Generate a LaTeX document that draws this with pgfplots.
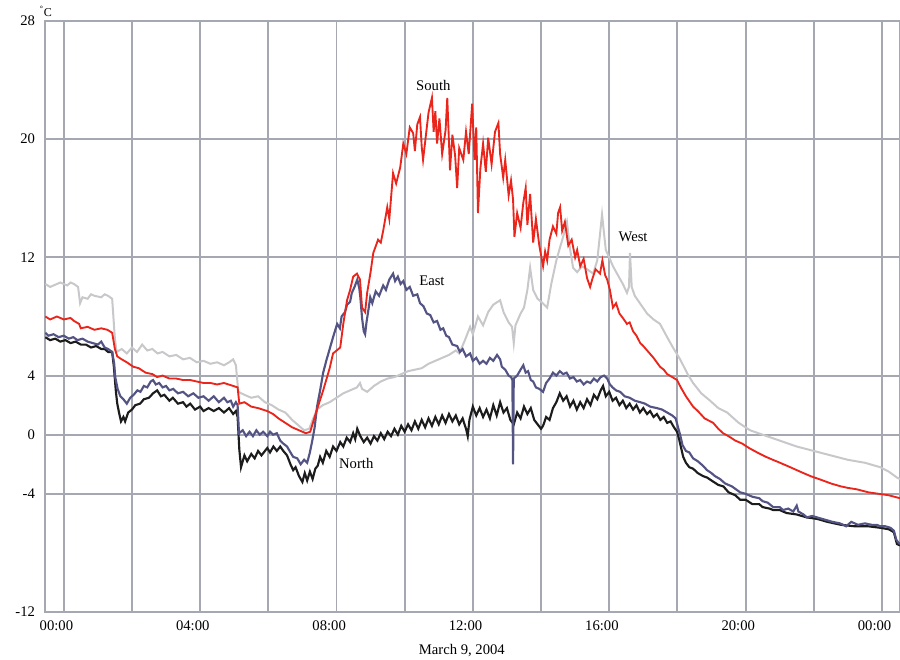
\documentclass[border=0pt]{standalone}
\usepackage{pgfplots}
\pgfplotsset{compat=1.18}
\usepackage{fontspec}
\setmainfont{Liberation Serif}
\definecolor{gridc}{RGB}{165,168,177}
\definecolor{westc}{RGB}{200,200,202}
\definecolor{southc}{RGB}{234,38,28}
\definecolor{eastc}{RGB}{84,84,132}
\definecolor{northc}{RGB}{28,28,28}
\begin{document}
\begin{tikzpicture}
\begin{axis}[
  scale only axis,
  width=641.25pt, height=443.25pt,
  xmin=-0.55, xmax=24.53, ymin=-12, ymax=28,
  xtick={0,4,...,24},
  xticklabels={00:00,04:00,08:00,12:00,16:00,20:00,00:00},
  minor xtick={2,6,10,14,18,22},
  ytick={-12,-4,4,12,20,28},
  yticklabels={-12,-4,4,12,20,28},
  extra y ticks={0}, extra y tick labels={0},
  extra y tick style={grid style={black, line width=0.7pt}},
  grid=both,
  major grid style={gridc, line width=1.4pt},
  minor grid style={gridc, line width=1.4pt},
  major tick length=0pt, minor tick length=0pt,
  axis line style={gridc, line width=1.2pt},
  tick label style={font=\fontsize{11}{13}\selectfont, black},
  xticklabel style={xshift=-5.5pt, yshift=-3pt},
  yticklabel style={xshift=-4pt},
  xlabel={March 9, 2004},
  xlabel style={font=\fontsize{11}{13}\selectfont, yshift=-3pt, xshift=-8pt},
  clip=true,
]
% West
\addplot[westc, line width=1.5pt] coordinates {
(-0.54,10.2) (-0.4,10.0) (-0.3,10.1) (-0.1,10.3) (0.1,10.1) (0.2,10.3) (0.3,10.2) (0.42,10.0) (0.48,8.9) (0.55,9.3) (0.7,9.2) (0.8,9.5) (0.9,9.4) (1.1,9.3) (1.2,9.5) (1.3,9.4) (1.42,9.2)
(1.5,6.5) (1.55,5.6) (1.7,5.8) (1.85,5.5) (2.0,5.9) (2.15,5.6) (2.3,6.1) (2.45,5.7) (2.6,5.8) (2.75,5.5) (2.9,5.6) (3.1,5.3) (3.3,5.4) (3.5,5.1) (3.7,5.2) (3.9,4.9) (4.1,5.0) (4.3,4.8) (4.5,4.9) (4.7,4.7) (4.85,4.9) (4.97,5.1) (5.05,4.7)
(5.12,2.9) (5.3,2.7) (5.5,2.5) (5.7,2.6) (5.9,2.2) (6.1,2.0) (6.3,1.7) (6.5,1.5) (6.7,1.0) (6.9,0.6) (7.05,0.3) (7.2,0.4) (7.3,1.0) (7.43,1.7) (7.6,2.0) (7.8,2.2) (8.0,2.5) (8.2,2.8) (8.4,3.0) (8.6,3.2) (8.69,3.5) (8.75,3.1) (8.9,2.9) (9.1,3.3) (9.3,3.6) (9.5,3.8) (9.7,3.9) (9.9,4.1) (10.1,4.3) (10.3,4.4) (10.5,4.5) (10.7,4.8) (10.9,5.0) (11.1,5.2) (11.3,5.4) (11.5,5.7) (11.6,5.5) (11.75,6.3) (11.92,7.3) (12.0,6.8) (12.15,8.0) (12.3,7.4) (12.45,8.3) (12.6,8.8) (12.8,9.1) (12.9,8.3) (13.05,7.6) (13.15,7.3) (13.2,6.2) (13.25,7.4) (13.4,8.2) (13.5,8.6) (13.6,9.8) (13.68,11.3) (13.77,9.8) (13.9,9.2) (14.05,8.9) (14.18,8.6) (14.3,10.2) (14.45,11.8) (14.56,12.7) (14.65,13.4) (14.76,14.4) (14.85,12.6) (14.94,11.3) (15.06,11.0) (15.2,11.4) (15.35,11.2) (15.53,10.9) (15.65,11.8) (15.79,14.9) (15.9,12.5) (16.0,12.0) (16.11,11.4) (16.23,10.9) (16.4,10.2) (16.52,9.6) (16.58,10.0) (16.61,12.3) (16.66,10.0) (16.75,9.4) (16.9,8.9) (17.11,8.2) (17.3,7.8) (17.49,7.5) (17.7,6.6) (17.87,5.9) (18.08,5.1) (18.3,4.1) (18.46,3.5) (18.7,2.8) (18.96,2.3) (19.2,1.8) (19.46,1.5) (19.8,0.8) (20.13,0.3) (20.5,0.0) (21.0,-0.4) (21.5,-0.8) (22.0,-1.1) (22.5,-1.4) (23.0,-1.7) (23.5,-1.9) (23.95,-2.2) (24.2,-2.5) (24.44,-2.9) (24.53,-3.0)
};
% North
\addplot[northc, line width=1.6pt] coordinates {
(-0.54,6.6) (-0.4,6.4) (-0.25,6.5) (-0.1,6.3) (0.05,6.4) (0.2,6.2) (0.35,6.3) (0.5,6.1) (0.65,6.1) (0.8,5.9) (0.95,6.0) (1.1,5.8) (1.2,5.8) (1.3,5.6) (1.42,5.6) (1.47,4.6) (1.53,2.9) (1.57,2.1) (1.63,1.4) (1.68,0.9) (1.75,1.2) (1.8,0.9) (1.89,1.5) (2.0,1.7) (2.1,2.0) (2.24,2.1) (2.35,2.4) (2.5,2.5) (2.62,2.8) (2.74,3.0) (2.85,2.6) (2.95,2.7) (3.1,2.3) (3.2,2.5) (3.35,2.1) (3.5,2.2) (3.6,1.9) (3.71,2.1) (3.85,1.7) (4.0,1.9) (4.1,1.6) (4.25,1.8) (4.4,1.6) (4.55,1.8) (4.7,1.5) (4.85,1.8) (4.97,1.4) (5.05,1.6) (5.1,1.2) (5.15,-1.0) (5.2,-2.2) (5.3,-1.4) (5.38,-1.8) (5.5,-1.3) (5.6,-1.6) (5.7,-1.1) (5.8,-1.4) (5.97,-0.9) (6.05,-1.2) (6.15,-0.8) (6.25,-1.1) (6.35,-0.8) (6.44,-1.1) (6.55,-1.4) (6.65,-2.0) (6.73,-2.4) (6.8,-2.2) (6.9,-2.8) (7.0,-3.2) (7.07,-2.6) (7.14,-3.1) (7.22,-2.5) (7.3,-3.0) (7.38,-2.3) (7.45,-2.1)
(7.52,-1.5) (7.6,-1.9) (7.7,-1.1) (7.8,-1.5) (7.9,-0.8) (8.0,-1.1) (8.11,-0.5) (8.2,-0.8) (8.3,-0.2) (8.4,-0.5) (8.49,0.1) (8.55,-0.3) (8.61,0.4) (8.7,-0.1) (8.8,-0.5) (8.9,-0.2) (9.0,-0.6) (9.1,-0.1) (9.2,-0.4) (9.3,0.1) (9.4,-0.3) (9.5,0.2) (9.6,-0.1) (9.7,0.4) (9.8,0.0) (9.9,0.6) (10.0,0.2) (10.1,0.7) (10.2,0.3) (10.3,0.9) (10.4,0.4) (10.5,1.0) (10.6,0.5) (10.7,1.1) (10.8,0.6) (10.9,1.2) (11.0,0.7) (11.1,1.3) (11.2,0.8) (11.3,1.4) (11.4,0.9) (11.5,1.3) (11.6,0.7) (11.7,1.1) (11.8,0.4) (11.85,-0.1) (11.9,1.0) (12.0,1.9) (12.1,1.3) (12.2,1.8) (12.3,1.2) (12.4,1.7) (12.5,1.1) (12.6,2.0) (12.7,1.3) (12.8,2.2) (12.9,1.5) (13.0,1.8) (13.1,1.0) (13.2,0.7) (13.3,1.5) (13.4,1.1) (13.5,1.9) (13.6,1.4) (13.7,1.8) (13.8,1.0) (13.9,0.7) (14.0,0.4) (14.06,0.6) (14.15,1.2) (14.25,1.0) (14.35,1.8) (14.45,2.2) (14.55,2.8) (14.65,2.3) (14.75,2.6) (14.85,1.9) (14.95,2.3) (15.05,1.7) (15.15,2.2) (15.25,1.8) (15.35,2.4) (15.45,2.0) (15.55,2.7) (15.65,2.4) (15.75,3.0) (15.82,3.3) (15.9,2.6) (16.0,2.9) (16.1,2.3) (16.2,2.5) (16.3,2.0) (16.4,2.3) (16.5,1.8) (16.6,2.1) (16.7,1.7) (16.8,2.0) (16.9,1.5) (17.0,1.8) (17.11,1.4) (17.2,1.6) (17.3,1.2) (17.4,1.4) (17.5,1.0) (17.6,1.2) (17.7,0.8) (17.8,0.9) (17.9,0.5) (17.99,0.2)
(18.05,-0.3) (18.1,-0.8) (18.17,-1.5) (18.25,-1.9) (18.35,-2.2) (18.46,-2.3) (18.6,-2.6) (18.75,-2.8) (18.87,-2.9) (19.0,-3.1) (19.2,-3.4) (19.35,-3.5) (19.5,-3.9) (19.7,-4.1) (19.84,-4.4) (20.0,-4.4) (20.2,-4.7) (20.4,-4.7) (20.5,-4.9) (20.7,-5.0) (20.81,-5.1) (21.0,-5.1) (21.2,-5.3) (21.5,-5.4) (21.8,-5.6) (22.1,-5.7) (22.4,-5.9) (22.8,-6.1) (23.2,-6.2) (23.6,-6.2) (23.95,-6.3) (24.2,-6.4) (24.35,-6.6) (24.44,-7.4) (24.53,-7.5)
};
% East
\addplot[eastc, line width=1.6pt] coordinates {
(-0.54,6.9) (-0.45,6.7) (-0.3,6.8) (-0.15,6.6) (0.0,6.7) (0.15,6.5) (0.28,6.6) (0.4,6.4) (0.55,6.5) (0.7,6.3) (0.85,6.2) (1.0,6.1) (1.1,6.3) (1.2,5.9) (1.3,5.8) (1.42,5.6) (1.48,4.8) (1.51,3.9) (1.58,3.1) (1.66,2.6) (1.75,2.4) (1.85,2.1) (1.95,2.5) (2.05,2.7) (2.16,3.0) (2.25,2.9) (2.35,3.3) (2.45,3.2) (2.55,3.6) (2.62,3.7) (2.7,3.4) (2.8,3.5) (2.9,3.2) (3.0,3.3) (3.1,3.0) (3.21,3.1) (3.35,2.8) (3.5,2.9) (3.65,2.6) (3.8,2.8) (3.95,2.5) (4.1,2.6) (4.25,2.3) (4.4,2.6) (4.55,2.2) (4.7,2.5) (4.8,2.2) (4.9,2.3) (4.97,1.9) (5.05,2.2) (5.1,2.0)
(5.14,0.1) (5.25,0.3) (5.35,-0.1) (5.45,0.2) (5.55,-0.1) (5.65,0.3) (5.75,0.0) (5.85,0.2) (5.97,-0.1) (6.05,0.2) (6.14,0.0) (6.25,0.1) (6.35,-0.4) (6.44,-0.6) (6.55,-0.8) (6.65,-1.2) (6.73,-1.5) (6.85,-1.6) (6.95,-2.0) (7.05,-1.7) (7.14,-1.9) (7.22,-1.2) (7.29,-0.4) (7.36,0.5) (7.43,1.9) (7.52,3.0) (7.61,4.2) (7.7,5.0) (7.8,5.8) (7.9,6.6) (8.02,7.5) (8.1,7.2) (8.15,8.0) (8.25,8.3) (8.31,8.8) (8.4,9.0) (8.45,9.6) (8.53,10.0) (8.61,10.5) (8.67,9.9) (8.7,9.3) (8.75,7.9) (8.8,7.0) (8.84,6.8) (8.88,7.6) (8.94,8.5) (8.99,9.3) (9.05,8.9) (9.15,9.7) (9.25,9.4) (9.37,10.1) (9.45,9.8) (9.55,10.5) (9.66,10.9) (9.72,10.4) (9.8,10.7) (9.88,10.2) (9.96,10.4) (10.05,9.8) (10.15,10.0) (10.25,9.4) (10.37,9.5) (10.45,8.9) (10.55,8.7) (10.65,8.2) (10.75,8.1) (10.85,7.6) (10.95,7.7) (11.05,7.1) (11.13,7.2) (11.22,6.7) (11.3,6.6) (11.4,6.1) (11.54,6.0) (11.62,5.6) (11.7,5.8) (11.8,5.3) (11.92,5.5) (12.0,5.0) (12.1,5.2) (12.2,4.8) (12.3,5.0) (12.4,4.8) (12.5,5.2) (12.6,5.0) (12.71,5.4) (12.8,5.1) (12.85,4.6) (12.95,4.4) (13.05,4.0) (13.12,3.9) (13.16,3.7) (13.18,-2.0) (13.2,3.8) (13.3,4.0) (13.4,4.4) (13.48,4.7) (13.55,4.2) (13.62,4.3) (13.7,3.7) (13.77,3.6) (13.85,3.2) (13.95,3.1) (14.06,2.9) (14.15,3.5) (14.25,3.8) (14.35,4.2) (14.45,4.0) (14.55,4.3) (14.65,4.1) (14.75,4.2) (14.85,3.8) (14.95,3.9) (15.05,3.6) (15.15,3.7) (15.25,3.4) (15.35,3.6) (15.45,3.5) (15.55,3.8) (15.65,3.6) (15.75,3.9) (15.85,4.0) (15.94,3.8) (16.02,3.4) (16.1,3.2) (16.2,3.0) (16.32,2.9) (16.45,2.6) (16.6,2.5) (16.75,2.3) (16.91,2.2) (17.05,2.1) (17.2,1.9) (17.4,1.8) (17.55,1.7) (17.7,1.5) (17.85,1.3) (17.95,1.1) (18.03,0.4) (18.08,0.0) (18.15,-0.7) (18.25,-1.1) (18.35,-1.2) (18.46,-1.6) (18.6,-1.8) (18.75,-2.1) (18.87,-2.4) (19.0,-2.6) (19.1,-2.8) (19.25,-3.0) (19.4,-3.3) (19.6,-3.5) (19.84,-3.9) (20.0,-4.0) (20.2,-4.2) (20.4,-4.3) (20.5,-4.5) (20.65,-4.6) (20.81,-4.9) (21.0,-4.9) (21.1,-5.1) (21.25,-5.0) (21.4,-5.2) (21.5,-4.8) (21.55,-5.2) (21.7,-5.4) (21.8,-5.6) (21.95,-5.5) (22.1,-5.6) (22.25,-5.7) (22.4,-5.8) (22.55,-5.9) (22.77,-6.0) (22.95,-6.2) (23.1,-5.9) (23.3,-6.1) (23.5,-6.0) (23.7,-6.1) (23.85,-6.1) (23.95,-6.2) (24.1,-6.2) (24.25,-6.3) (24.35,-6.5) (24.42,-7.1) (24.48,-7.3) (24.53,-7.4)
};
% South
\addplot[southc, line width=1.4pt] coordinates {
(-0.54,8.0) (-0.4,7.8) (-0.2,8.0) (0.0,7.8) (0.2,7.9) (0.3,7.7) (0.45,7.5) (0.5,7.2) (0.7,7.3) (0.9,7.1) (1.1,7.2) (1.28,7.1) (1.42,6.9) (1.5,5.8) (1.57,5.3) (1.7,5.1) (1.85,4.9) (2.04,4.6) (2.2,4.5) (2.4,4.2) (2.6,4.1) (2.74,3.9) (2.9,4.0) (3.1,3.8) (3.3,3.8) (3.5,3.7) (3.71,3.7) (3.9,3.6) (4.1,3.5) (4.3,3.5) (4.5,3.4) (4.7,3.5) (4.97,3.3) (5.1,3.2) (5.15,2.1) (5.3,2.2) (5.5,1.9) (5.7,1.8) (5.97,1.6) (6.14,1.4) (6.3,1.1) (6.5,0.8) (6.7,0.5) (6.9,0.3) (7.1,0.1) (7.23,0.2) (7.4,1.5) (7.61,3.0) (7.8,4.5) (7.9,5.5) (8.11,5.9) (8.2,7.5) (8.31,9.1) (8.4,9.8) (8.49,10.7) (8.6,10.9) (8.69,10.5) (8.75,8.6) (8.84,8.3) (8.9,9.6) (9.0,11.0) (9.08,12.3) (9.22,13.2) (9.3,13.0) (9.37,13.8) (9.49,15.4) (9.55,14.6) (9.66,17.7) (9.75,17.0) (9.87,18.1) (9.96,19.7) (10.05,19.0) (10.15,20.8) (10.25,20.4) (10.3,19.2) (10.37,21.0) (10.45,21.5) (10.5,19.5) (10.54,18.6) (10.62,20.2) (10.7,21.8) (10.8,22.8) (10.85,20.5) (10.9,21.9) (10.95,19.7) (11.02,21.4) (11.1,19.0) (11.2,20.6) (11.25,22.8) (11.3,19.8) (11.33,17.9) (11.4,20.3) (11.48,18.9) (11.54,16.7) (11.6,19.4) (11.72,18.6) (11.8,20.5) (11.88,19.0) (11.98,22.4) (12.05,18.6) (12.1,20.8) (12.15,15.0) (12.22,18.0) (12.3,19.7) (12.38,17.8) (12.45,20.1) (12.55,18.3) (12.65,20.5) (12.75,21.1) (12.8,19.0) (12.89,17.4) (12.95,18.6) (13.05,16.2) (13.12,17.2) (13.18,15.9) (13.22,13.4) (13.3,15.0) (13.4,14.0) (13.48,15.7) (13.55,16.7) (13.6,14.2) (13.68,16.3) (13.77,13.0) (13.85,14.6) (13.95,12.8) (14.06,11.4) (14.12,12.4) (14.18,11.8) (14.25,13.2) (14.35,14.1) (14.45,13.6) (14.5,15.0) (14.56,15.4) (14.62,13.8) (14.7,14.4) (14.8,12.8) (14.9,13.2) (15.0,12.0) (15.06,12.5) (15.15,11.4) (15.25,11.9) (15.35,10.6) (15.44,10.0) (15.5,10.5) (15.6,11.2) (15.73,10.9) (15.8,11.8) (15.88,10.8) (15.94,10.5) (16.02,9.8) (16.11,8.6) (16.2,8.9) (16.3,8.2) (16.4,7.9) (16.52,7.5) (16.6,7.6) (16.7,7.0) (16.8,6.7) (16.91,6.2) (17.0,6.0) (17.15,5.6) (17.3,5.2) (17.49,4.6) (17.6,4.4) (17.7,4.1) (17.85,3.9) (17.99,3.7) (18.1,3.2) (18.25,2.6) (18.46,1.9) (18.6,1.6) (18.8,1.1) (19.05,0.8) (19.2,0.4) (19.34,0.1) (19.5,-0.1) (19.7,-0.4) (19.9,-0.6) (20.1,-0.9) (20.34,-1.2) (20.6,-1.5) (20.8,-1.7) (21.01,-1.9) (21.31,-2.2) (21.6,-2.5) (21.9,-2.8) (22.27,-3.1) (22.5,-3.3) (22.8,-3.5) (23.0,-3.6) (23.27,-3.7) (23.6,-3.9) (23.9,-4.0) (24.2,-4.1) (24.53,-4.3)
};
\node[font=\fontsize{11}{13}\selectfont] at (axis cs:10.84,23.66) {South};
\node[font=\fontsize{11}{13}\selectfont] at (axis cs:10.8,10.45) {East};
\node[font=\fontsize{11}{13}\selectfont] at (axis cs:16.7,13.36) {West};
\node[font=\fontsize{11}{13}\selectfont] at (axis cs:8.58,-1.98) {North};
\end{axis}
\node[font=\fontsize{9}{10}\selectfont, anchor=south west, inner sep=0pt] at ([xshift=-4pt, yshift=3pt]current axis.north west) {\textsuperscript{\textdegree}C};
\pgfresetboundingbox
\path[use as bounding box] ([xshift=-33.75pt,yshift=-36pt]current axis.south west) rectangle ([yshift=15.75pt]current axis.north east);
\end{tikzpicture}
\end{document}
